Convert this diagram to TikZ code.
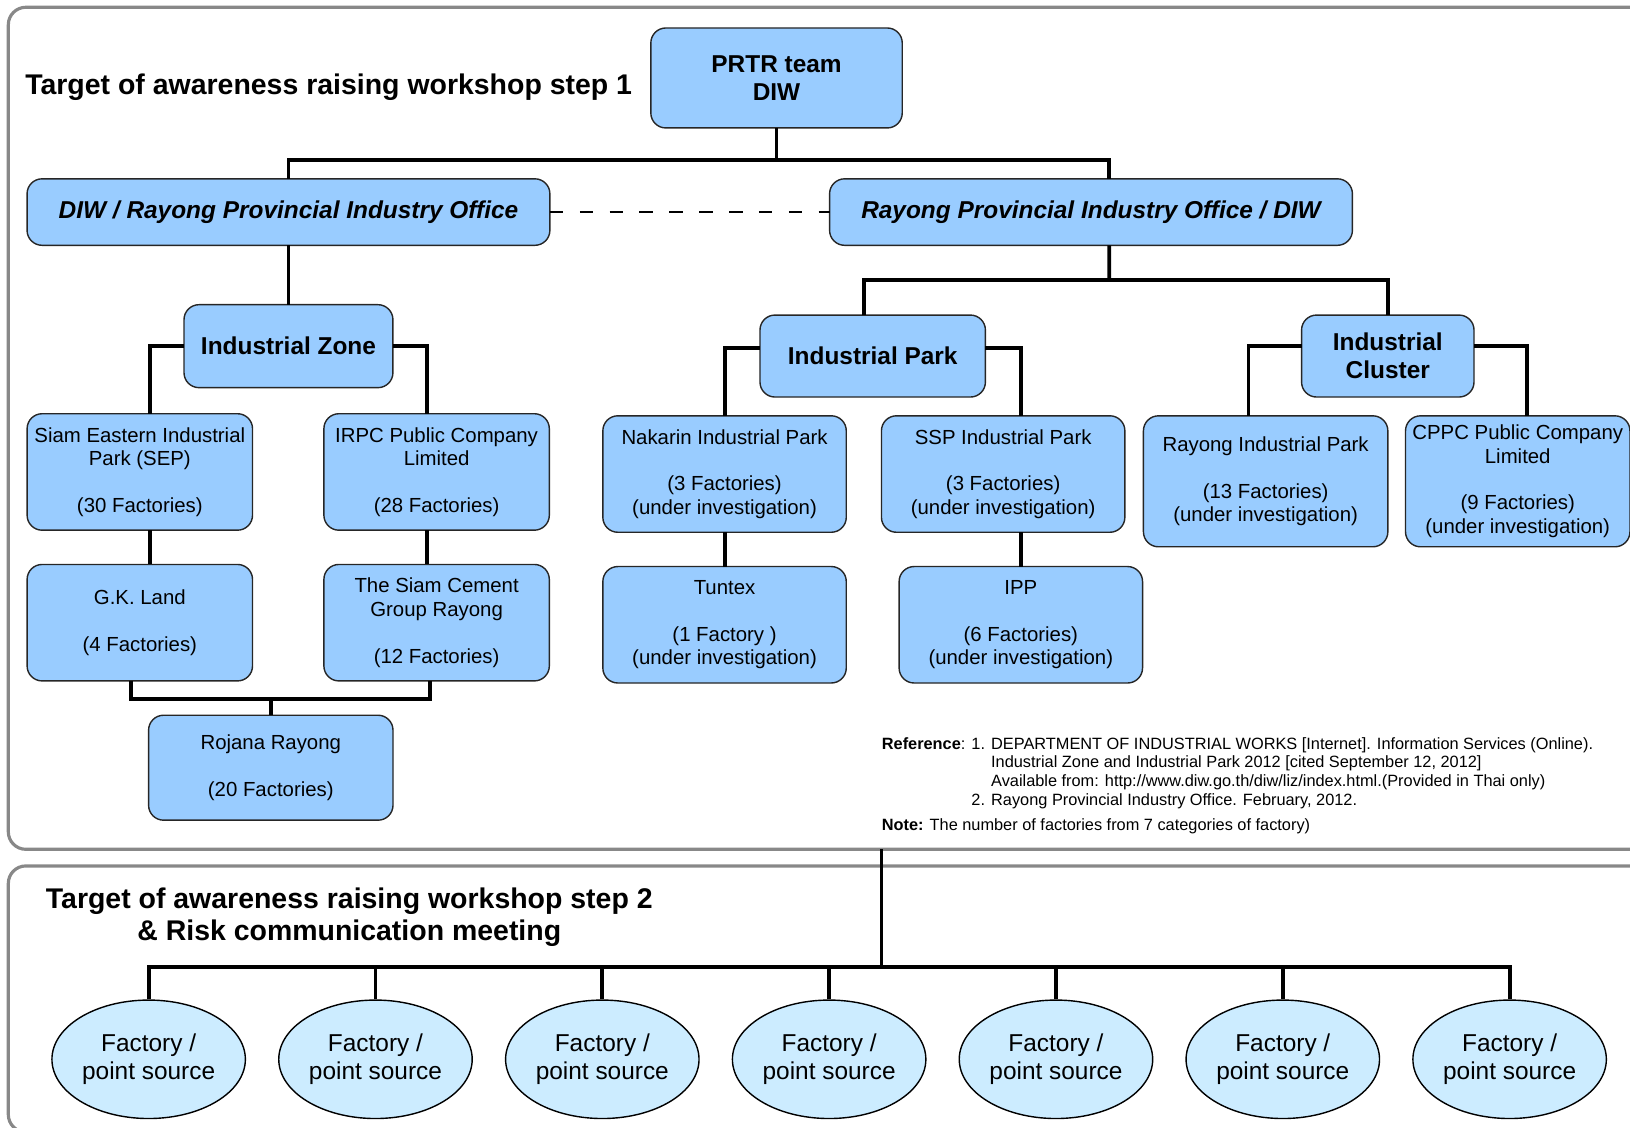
\documentclass[tikz,border=0pt]{standalone}
\usepackage{fontspec}
\setmainfont{Liberation Sans}
\usetikzlibrary{calc,shapes.geometric}
\definecolor{boxblue}{HTML}{99CCFF}
\definecolor{paleblue}{HTML}{CCECFF}
\definecolor{framegray}{HTML}{888888}
\tikzset{
  box/.style={draw=black!85, line width=0.8pt, fill=boxblue, rounded corners=0.3cm,
    inner sep=0pt, outer sep=0pt, align=center},
  head/.style={box, font=\fontsize{13.9}{16}\selectfont\bfseries},
  office/.style={box, minimum width=10.46cm, minimum height=1.33cm,
    font=\fontsize{13.9}{16}\selectfont\bfseries\itshape},
  site/.style={box, font=\fontsize{11.6}{13.3}\selectfont},
  zonebox/.style={site, minimum width=4.51cm, minimum height=2.33cm},
  parkbox/.style={site, minimum width=4.87cm, minimum height=2.33cm},
  factory/.style={ellipse, draw, line width=0.8pt, fill=paleblue, minimum width=3.87cm,
    minimum height=2.37cm, inner sep=0pt, align=center, font=\fontsize{13.9}{16}\selectfont},
  link/.style={line width=2.2pt},
  peer/.style={line width=0.8pt, dash pattern=on 7.7pt off 9.3pt},
  panel/.style={draw=framegray, line width=1.8pt, rounded corners=0.35cm},
  heading/.style={inner sep=0pt, font=\fontsize{16.2}{18.3}\selectfont\bfseries},
}

\begin{document}
\begin{tikzpicture}[x=0.0208cm,y=-0.0208cm]
\useasboundingbox (0,0) rectangle (1568,1085);
\clip (0,0) rectangle (1568,1085);
\draw[panel] (8,7) rectangle (1620,817);
\draw[panel] (8,833) rectangle (1620,1089);

\node[heading, anchor=west] (t1) at (24,84) {Target of awareness raising workshop step 1};
\node[heading, align=center] (t2) at (336,882) {Target of awareness raising workshop step 2\\\& Risk communication meeting};

\node[head, minimum width=5.03cm, minimum height=2cm] (prtr) at (747,75) {PRTR team\\DIW};
\node[office] (diw) at (277.5,204) {DIW / Rayong Provincial Industry Office};
\node[office] (ray) at (1049.5,204) {Rayong Provincial Industry Office / DIW};

% industrial zone branch
\node[head, minimum width=4.18cm, minimum height=1.66cm] (iz) at (277.5,333) {Industrial Zone};
\node[zonebox] (sep) at (134.5,454) {Siam Eastern Industrial\\Park (SEP)\\[13.3pt](30 Factories)};
\node[zonebox] (irpc) at (420,454) {IRPC Public Company\\Limited\\[13.3pt](28 Factories)};
\node[zonebox] (gk) at (134.5,599) {G.K. Land\\[13.3pt](4 Factories)};
\node[zonebox] (sc) at (420,599) {The Siam Cement\\Group Rayong\\[13.3pt](12 Factories)};
\node[site, minimum width=4.89cm, minimum height=2.1cm] (rj) at (260.5,738.5) {Rojana Rayong\\[13.3pt](20 Factories)};

% industrial park and cluster branch
\node[head, minimum width=4.51cm, minimum height=1.64cm] (ip) at (839.5,342.5) {Industrial Park};
\node[head, minimum width=3.45cm, minimum height=1.64cm] (cl) at (1335,342.5) {Industrial\\Cluster};
\node[parkbox] (nak) at (697,456) {Nakarin Industrial Park\\[13.3pt](3 Factories)\\(under investigation)};
\node[parkbox] (ssp) at (965,456) {SSP Industrial Park\\[13.3pt](3 Factories)\\(under investigation)};
\node[parkbox] (tun) at (697,601) {Tuntex\\[13.3pt](1 Factory )\\(under investigation)};
\node[parkbox] (ipp) at (982,601) {IPP\\[13.3pt](6 Factories)\\(under investigation)};
\node[site, minimum width=4.89cm, minimum height=2.62cm] (rip) at (1217.5,463) {Rayong Industrial Park\\[13.3pt](13 Factories)\\(under investigation)};
\node[site, minimum width=4.49cm, minimum height=2.62cm] (cppc) at (1460,463) {CPPC Public Company\\Limited\\[13.3pt](9 Factories)\\(under investigation)};

\node[anchor=north west, align=left, inner sep=0pt, font=\fontsize{9.3}{10.6}\selectfont] (refs) at (848,709) {%
\textbf{Reference}: 1. DEPARTMENT OF INDUSTRIAL WORKS [Internet]. Information Services (Online).\\
\phantom{\textbf{Reference}: 1. }Industrial Zone and Industrial Park 2012 [cited September 12, 2012]\\
\phantom{\textbf{Reference}: 1. }Available from: http://www.diw.go.th/diw/liz/index.html.(Provided in Thai only)\\
\phantom{\textbf{Reference}: }2. Rayong Provincial Industry Office. February, 2012.\\[4pt]
\textbf{Note:} The number of factories from 7 categories of factory)};

\foreach \i in {1,...,7}
  \node[factory] (fs\i) at ({143+(\i-1)*218.2},1019) {Factory /\\point source};

% step 1 links
\coordinate (b1) at (747,154);
\draw[link] (prtr.south) -- (b1);
\draw[link] (diw.north) |- (b1) -| ($(ray.north)+(17.5,0)$);
\draw[peer] (diw.east) -- (ray.west);
\draw[link] (diw.south) -- (iz.north);
\draw[link] ($(sep.north)+(9.5,0)$) |- (iz.west);
\draw[link] ($(irpc.north)+(-9,0)$) |- (iz.east);
\draw[link] ($(sep.south)+(9.5,0)$) -- ($(gk.north)+(9.5,0)$);
\draw[link] ($(irpc.south)+(-9,0)$) -- ($(sc.north)+(-9,0)$);
\coordinate (b2) at (260.5,672);
\draw[link] ($(gk.south)+(-8.5,0)$) |- (b2) -| ($(sc.south)+(-6,0)$);
\draw[link] (b2) -- (rj.north);
\coordinate (b3) at (1067,269);
\draw[link] ($(ray.south)+(17.5,0)$) -- (b3);
\draw[link] ($(ip.north)+(-8.5,0)$) |- (b3) -| (cl.north);
\draw[link] (nak.north) |- ($(ip.west)+(0,-7.5)$);
\draw[link] ($(ssp.north)+(17,0)$) |- ($(ip.east)+(0,-7.5)$);
\draw[link] (nak.south) -- (tun.north);
\draw[link] (ipp.north) -- (ipp.north |- ssp.south);
\draw[link] ($(rip.north)+(-16.5,0)$) |- ($(cl.west)+(0,-9.5)$);
\draw[link] ($(cppc.north)+(9,0)$) |- ($(cl.east)+(0,-9.5)$);

% step 2 links
\coordinate (feed) at (848,817);
\coordinate (b4) at (848,930);
\draw[link] (feed) -- (b4);
\draw[link] (fs1.north) |- (b4) -| (fs7.north);
\foreach \i in {2,...,6}
  \draw[link] (fs\i.north) -- (fs\i.north |- b4);
\end{tikzpicture}
\end{document}
